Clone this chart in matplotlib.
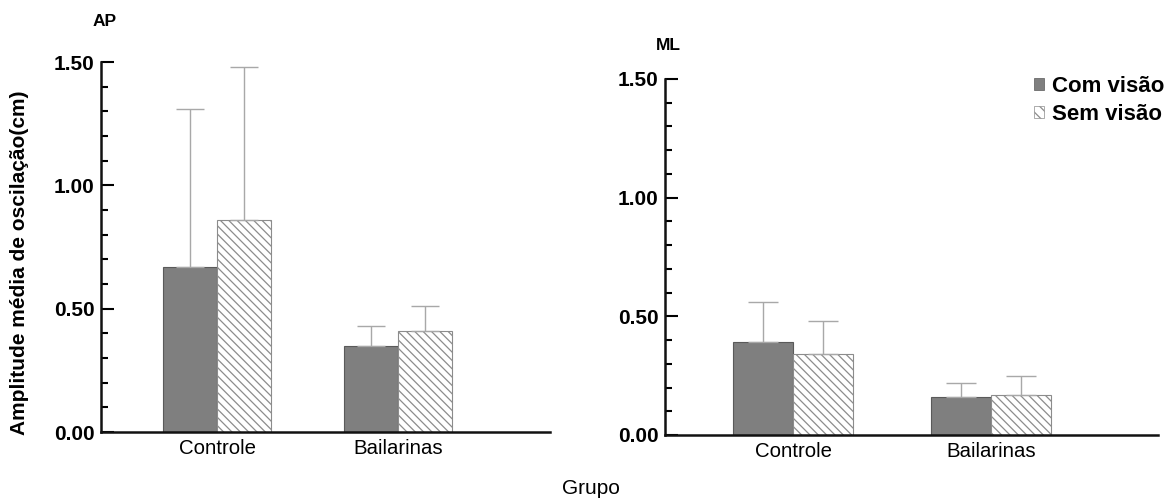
import matplotlib
matplotlib.use("Agg")
import matplotlib.pyplot as plt
import numpy as np
from matplotlib.patches import Patch

plt.rcParams['font.family'] = ['Liberation Sans', 'DejaVu Sans']
plt.rcParams['hatch.linewidth'] = 0.9

groups = ['Controle', 'Bailarinas']
series = ['Com visão', 'Sem visão']
yticks = [0.0, 0.5, 1.0, 1.5]

ap_com = [0.67, 0.35]
ap_com_sd = [0.64, 0.08]
ap_sem = [0.86, 0.41]
ap_sem_sd = [0.62, 0.10]

ml_com = [0.39, 0.16]
ml_com_sd = [0.17, 0.06]
ml_sem = [0.34, 0.17]
ml_sem_sd = [0.14, 0.08]

W, H = 1174, 500
fig = plt.figure(figsize=(W / 100, H / 100), dpi=100)

dark = '#7f7f7f'
dark_edge = '#5a5a5a'
hatch_col = '#8c8c8c'
err_col = '#a8a8a8'


def panel(rect, com, com_sd, sem, sem_sd, xlim, w, capsize, title, title_xy):
    ax = fig.add_axes(rect)
    x = np.arange(len(groups))
    ax.bar(x - w / 2, com, w, color=dark, edgecolor=dark_edge, linewidth=0.8,
           yerr=[np.zeros(len(com)), com_sd],
           error_kw=dict(ecolor=err_col, elinewidth=1.0, capsize=capsize, capthick=1.0),
           zorder=2)
    ax.bar(x + w / 2, sem, w, color='white', edgecolor=hatch_col, linewidth=0.8,
           hatch='\\\\\\\\',
           yerr=[np.zeros(len(sem)), sem_sd],
           error_kw=dict(ecolor=err_col, elinewidth=1.0, capsize=capsize, capthick=1.0),
           zorder=2)
    ax.set_xlim(*xlim)
    ax.set_ylim(0, 1.5)
    ax.set_xticks(x)
    ax.set_xticklabels(groups, fontsize=14.7)
    ax.tick_params(axis='x', length=0, pad=5)
    ax.set_yticks(yticks)
    ax.set_yticklabels([f'{v:.2f}' for v in yticks], fontsize=15, fontweight='bold')
    ax.set_yticks(np.arange(0, 1.51, 0.1), minor=True)
    ax.tick_params(axis='y', which='major', direction='in', length=9, width=1.5, pad=4.5)
    ax.tick_params(axis='y', which='minor', direction='in', length=5, width=1.5)
    for s in ['top', 'right']:
        ax.spines[s].set_visible(False)
    for s in ['left', 'bottom']:
        ax.spines[s].set_linewidth(1.8)
        ax.spines[s].set_color('#111111')
    fig.text(title_xy[0] / W, 1 - title_xy[1] / H, title, fontsize=12.5, fontweight='bold',
             ha='center', va='center')
    return ax


ax1 = panel([101 / W, 1 - 432 / H, (550 - 101) / W, (432 - 62) / H],
            ap_com, ap_com_sd, ap_sem, ap_sem_sd,
            (-0.643, 1.838), 0.298, 10, 'AP', (105, 22))
ax2 = panel([665 / W, 1 - 435 / H, (1158 - 665) / W, (435 - 79) / H],
            ml_com, ml_com_sd, ml_sem, ml_sem_sd,
            (-0.65, 1.847), 0.304, 10.8, 'ML', (668, 45))

fig.text(20 / W, 1 - 263 / H, 'Amplitude média de oscilação(cm)', rotation=90,
         fontsize=15, fontweight='bold', ha='center', va='center')
fig.text(591 / W, 1 - 488 / H, 'Grupo', fontsize=15, ha='center', va='center')

handles = [Patch(facecolor=dark, edgecolor=dark_edge, linewidth=0.5),
           Patch(facecolor='white', edgecolor=hatch_col, hatch='\\\\\\', linewidth=0.5)]
fig.legend(handles, series, loc='upper left', bbox_to_anchor=(1034 / W, 1 - 76 / H),
           frameon=False, prop={'weight': 'bold', 'size': 16},
           handlelength=0.45, handleheight=0.45, handletextpad=0.38,
           borderpad=0, borderaxespad=0, labelspacing=0.3)

fig.savefig('out.png', dpi=100)
